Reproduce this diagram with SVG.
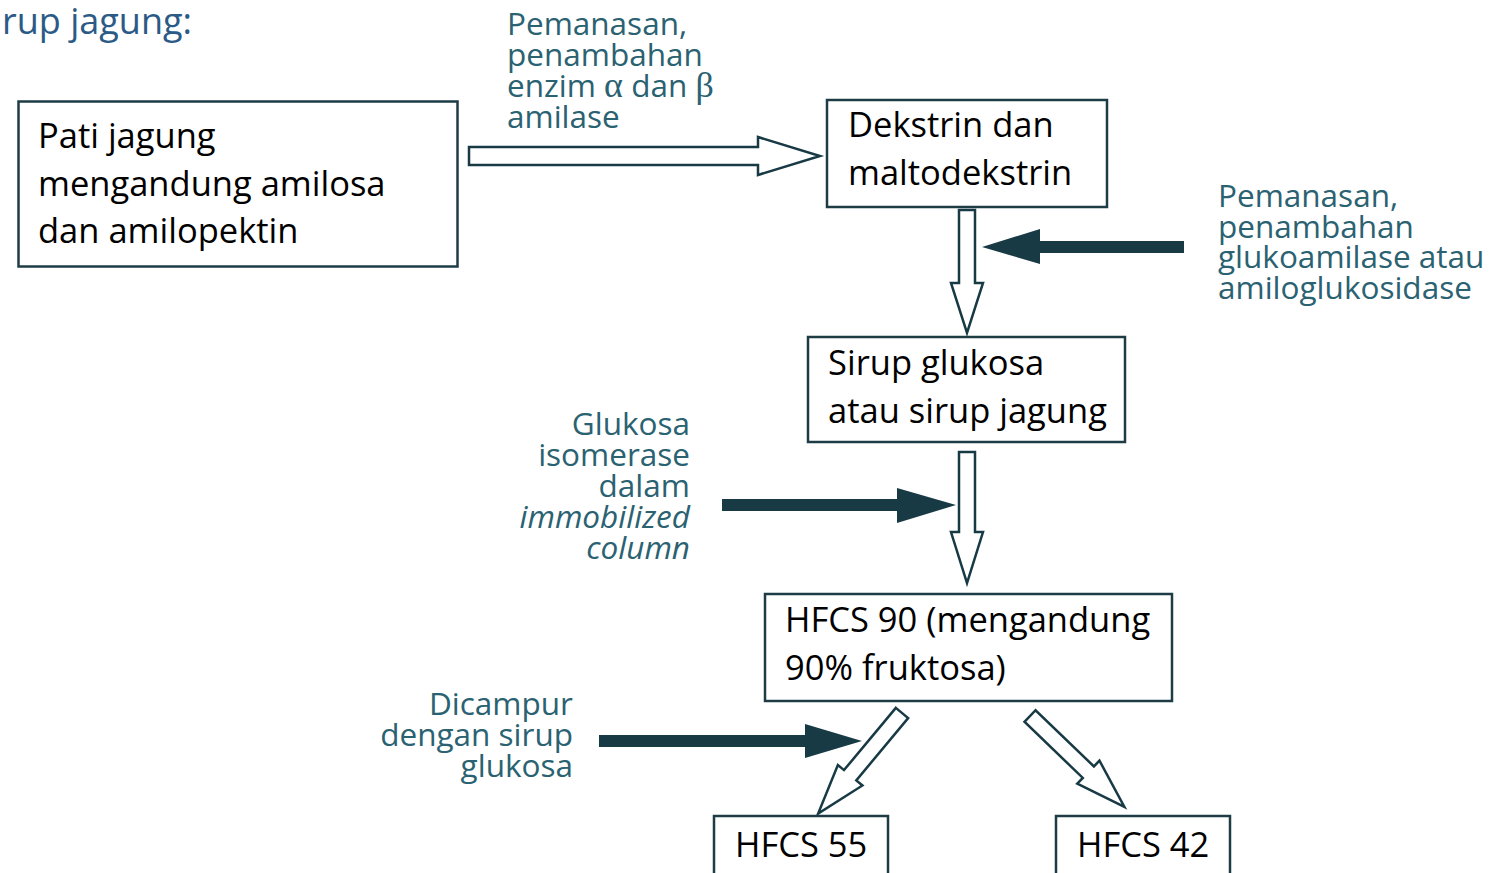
<svg xmlns="http://www.w3.org/2000/svg" width="1496" height="873" viewBox="0 0 1496 873">
<style>
.box{fill:#fff;stroke:#1d3c46;stroke-width:2.5}
.bt{font-family:"Open Sans","Noto Sans",sans-serif;font-size:34.5px;fill:#000}
.lbl{font-family:"Open Sans","Noto Sans",sans-serif;font-size:31.5px;fill:#2a6272}
.hollow{fill:#fff;stroke:#173a45;stroke-width:2.5;stroke-linejoin:miter}
.solid{fill:#173a45;stroke:none}
.sym{font-family:"Liberation Serif","DejaVu Serif",serif;font-size:36px}
</style>
<rect width="1496" height="873" fill="#fff"/>
<text x="2" y="34" font-family="'Open Sans','Noto Sans',sans-serif" font-size="36" fill="#2b5a86">rup jagung:</text>

<g id="connectors">
  <polygon class="hollow" points="469,147 758,147 758,137 820,156 758,175 758,165 469,165"/>
  <polygon class="hollow" points="959,210 975,210 975,283 983,283 967,333 951,283 959,283"/>
  <polygon class="solid" points="1184,241 1040,241 1040,229 982,247 1040,264 1040,253 1184,253"/>
  <polygon class="hollow" points="959,452 975,452 975,532 983,532 967,583 951,532 959,532"/>
  <polygon class="solid" points="722,499 897,499 897,488 956,505 897,523 897,511 722,511"/>
  <polygon class="solid" points="599,735 805,735 805,724 862,741 805,758 805,747 599,747"/>
  <polygon class="hollow" transform="translate(902,713) rotate(39.8)" points="-8,0 8,0 8,81 16,81 0,131 -16,81 -8,81"/>
  <polygon class="hollow" transform="translate(1030,716) rotate(-46.1)" points="-8,0 8,0 8,81 16,81 0,131 -16,81 -8,81"/>
</g>

<g id="label-amilase">
  <text class="lbl" x="507" y="35">Pemanasan,</text>
  <text class="lbl" x="507" y="66">penambahan</text>
  <text class="lbl" x="507" y="97">enzim <tspan class="sym">α</tspan> dan <tspan class="sym">β</tspan></text>
  <text class="lbl" x="507" y="128">amilase</text>
</g>
<g id="label-glukoamilase">
  <text class="lbl" x="1218" y="207">Pemanasan,</text>
  <text class="lbl" x="1218" y="238">penambahan</text>
  <text class="lbl" x="1218" y="268">glukoamilase atau</text>
  <text class="lbl" x="1218" y="299">amiloglukosidase</text>
</g>
<g id="label-isomerase" text-anchor="end">
  <text class="lbl" x="690" y="435">Glukosa</text>
  <text class="lbl" x="690" y="466">isomerase</text>
  <text class="lbl" x="690" y="497">dalam</text>
  <text class="lbl" x="690" y="528" font-style="italic">immobilized</text>
  <text class="lbl" x="690" y="559" font-style="italic">column</text>
</g>
<g id="label-dicampur" text-anchor="end">
  <text class="lbl" x="573" y="715">Dicampur</text>
  <text class="lbl" x="573" y="746">dengan sirup</text>
  <text class="lbl" x="573" y="777">glukosa</text>
</g>

<g id="node-pati">
  <rect class="box" x="18.5" y="101.5" width="439" height="165"/>
  <text class="bt" x="38" y="148">Pati jagung</text>
  <text class="bt" x="38" y="196">mengandung amilosa</text>
  <text class="bt" x="38" y="243">dan amilopektin</text>
</g>
<g id="node-dekstrin">
  <rect class="box" x="827" y="100" width="280" height="107"/>
  <text class="bt" x="848" y="137">Dekstrin dan</text>
  <text class="bt" x="848" y="185">maltodekstrin</text>
</g>
<g id="node-sirup">
  <rect class="box" x="808" y="337" width="317" height="105"/>
  <text class="bt" x="828" y="375">Sirup glukosa</text>
  <text class="bt" x="828" y="423">atau sirup jagung</text>
</g>
<g id="node-hfcs90">
  <rect class="box" x="765" y="594" width="407" height="107"/>
  <text class="bt" x="785" y="632">HFCS 90 (mengandung</text>
  <text class="bt" x="785" y="680">90% fruktosa)</text>
</g>
<g id="node-hfcs55">
  <rect class="box" x="714" y="816" width="174" height="80"/>
  <text class="bt" x="735" y="857">HFCS 55</text>
</g>
<g id="node-hfcs42">
  <rect class="box" x="1056" y="816" width="174" height="80"/>
  <text class="bt" x="1077" y="857">HFCS 42</text>
</g>
</svg>
